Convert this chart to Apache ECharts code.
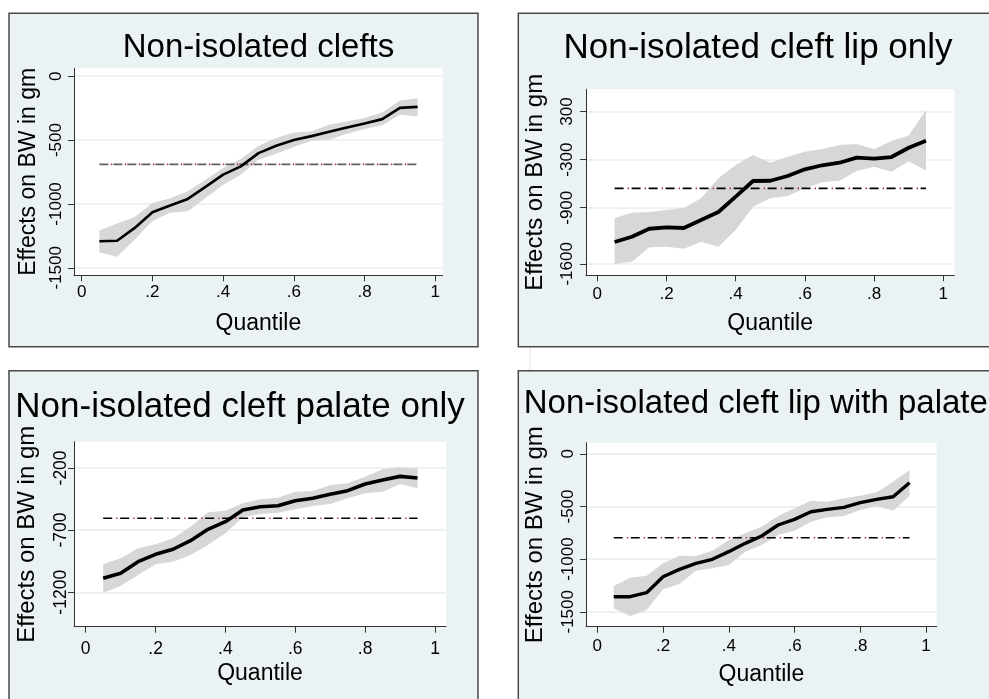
<!DOCTYPE html>
<html>
<head>
<meta charset="utf-8">
<script src="https://cdn.jsdelivr.net/npm/echarts@6/dist/echarts.min.js"></script>
<style>
  html, body { margin: 0; padding: 0; background: #ffffff; }
  #chart { width: 989px; height: 699px; }
</style>
</head>
<body>
<div id="chart"></div>
<script>
// ---------------- data ----------------
const quantiles = [0.05, 0.10, 0.15, 0.20, 0.25, 0.30, 0.35, 0.40, 0.45, 0.50,
                   0.55, 0.60, 0.65, 0.70, 0.75, 0.80, 0.85, 0.90, 0.95];

const xTicks = [0, 0.2, 0.4, 0.6, 0.8, 1];
const xTickLabels = ['0', '.2', '.4', '.6', '.8', '1'];

const titles = ['Non-isolated clefts', 'Non-isolated cleft lip only',
                'Non-isolated cleft palate only', 'Non-isolated cleft lip with palate'];
const yAxisTitle = 'Effects on BW in gm';
const xAxisTitle = 'Quantile';

// Panel 1: Non-isolated clefts
const p1Est   = [-1292, -1288, -1188, -1065, -1013, -961, -867, -771, -706, -602,
                 -545, -500, -469, -435, -401, -370, -336, -248, -240];
const p1Upper = [-1208, -1154, -1102, -992, -956, -901, -810, -719, -648, -545,
                 -484, -441, -430, -380, -355, -328, -284, -191, -172];
const p1Lower = [-1378, -1414, -1279, -1133, -1070, -1058, -953, -849, -771, -654,
                 -607, -555, -505, -498, -451, -414, -383, -302, -316];
const p1Ref = -690;
const p1YTicks = [0, -500, -1000, -1500];

// Panel 2: Non-isolated cleft lip only
const p2Est   = [-1328, -1262, -1162, -1144, -1153, -1053, -953, -762, -566, -563,
                 -504, -420, -370, -338, -275, -288, -267, -151, -63];
const p2Upper = [-1028, -962, -953, -928, -903, -782, -533, -367, -242, -338,
                 -263, -201, -167, -117, -104, -171, -67, 1, 320];
const p2Lower = [-1602, -1574, -1394, -1386, -1411, -1324, -1386, -1178, -887, -782,
                 -754, -657, -583, -563, -441, -388, -450, -320, -438];
const p2Ref = -658;
const p2YTicks = [300, -300, -900, -1600];

// Panel 3: Non-isolated cleft palate only
const p3Est   = [-1087, -1047, -954, -895, -854, -785, -694, -632, -538, -512,
                 -504, -464, -444, -412, -383, -329, -297, -268, -281];
const p3Upper = [-975, -927, -846, -814, -766, -673, -557, -544, -485, -452,
                 -440, -391, -386, -337, -324, -271, -211, -195, -203];
const p3Lower = [-1203, -1149, -1061, -975, -954, -900, -820, -726, -597, -571,
                 -560, -533, -506, -490, -444, -404, -391, -329, -364];
const p3Ref = -605;
const p3YTicks = [-200, -700, -1200];

// Panel 4: Non-isolated cleft lip with palate
const p4Est   = [-1357, -1357, -1319, -1167, -1097, -1040, -1002, -929, -850, -780,
                 -676, -622, -550, -527, -508, -464, -432, -407, -274];
const p4Upper = [-1255, -1176, -1157, -1040, -967, -970, -920, -818, -755, -692,
                 -590, -517, -445, -455, -422, -398, -365, -265, -154];
const p4Lower = [-1467, -1540, -1483, -1287, -1236, -1110, -1087, -1056, -929, -866,
                 -771, -730, -645, -603, -590, -533, -495, -540, -401];
const p4Ref = -797;
const p4YTicks = [0, -500, -1000, -1500];

// ---------------- layout / style ----------------
const FONT = 'Liberation Sans, Arial, Helvetica, sans-serif';
const panels = [
  { est: p1Est, up: p1Upper, lo: p1Lower, ref: p1Ref, yTicks: p1YTicks,
    grid: { left: 74, top: 68.3, width: 368.7, height: 207 },
    xr: [-0.0218, 1.021], yr: [-1559, 62],
    title: { x: 258.5, top: 31.8, size: 33 },
    lw: 2.6, refColor: '#606060', refDash: [9, 5],
    xLabMargin: 9, xNameGap: 36.5, yLabMargin: 9.5, yNameGap: 33.8, nameSize: 23, labSize: 17 },
  { est: p2Est, up: p2Upper, lo: p2Lower, ref: p2Ref, yTicks: p2YTicks,
    grid: { left: 586, top: 89.3, width: 368.3, height: 186 },
    xr: [-0.0327, 1.0318], yr: [-1743, 578],
    title: { x: 758, top: 30.8, size: 35 },
    lw: 3.8, refColor: '#000000', refDash: [9, 8],
    xLabMargin: 11, xNameGap: 36.5, yLabMargin: 10, yNameGap: 39, nameSize: 24, labSize: 17 },
  { est: p3Est, up: p3Upper, lo: p3Lower, ref: p3Ref, yTicks: p3YTicks,
    grid: { left: 74, top: 441.7, width: 372, height: 185 },
    xr: [-0.0335, 1.0315], yr: [-1477, 11],
    title: { x: 240, top: 390, size: 35 },
    lw: 3.6, refColor: '#000000', refDash: [9, 8],
    xLabMargin: 13, xNameGap: 35.8, yLabMargin: 4, yNameGap: 35, nameSize: 24, labSize: 17.5 },
  { est: p4Est, up: p4Upper, lo: p4Lower, ref: p4Ref, yTicks: p4YTicks,
    grid: { left: 586, top: 442.7, width: 350.7, height: 184 },
    xr: [-0.0344, 1.0326], yr: [-1642, 106],
    title: { x: 755.8, top: 387.3, size: 33 },
    lw: 3.4, refColor: '#000000', refDash: [9, 8],
    xLabMargin: 11.5, xNameGap: 36.3, yLabMargin: 9.5, yNameGap: 39, nameSize: 24, labSize: 17 }
];

const option = {
  animation: false,
  backgroundColor: '#ffffff',
  textStyle: { fontFamily: FONT },
  graphic: [
    { type: 'rect', z: -100, shape: { x: 9, y: 13.3, width: 469, height: 333.4 },
      style: { fill: '#EAF2F3', stroke: '#4a4a4a', lineWidth: 1.5 } },
    { type: 'rect', z: -100, shape: { x: 518.3, y: 13.3, width: 480, height: 333.4 },
      style: { fill: '#EAF2F3', stroke: '#4a4a4a', lineWidth: 1.5 } },
    { type: 'rect', z: -100, shape: { x: 9, y: 370.7, width: 469, height: 340 },
      style: { fill: '#EAF2F3', stroke: '#4a4a4a', lineWidth: 1.5 } },
    { type: 'rect', z: -100, shape: { x: 518.3, y: 370.7, width: 480, height: 340 },
      style: { fill: '#EAF2F3', stroke: '#4a4a4a', lineWidth: 1.5 } },
    { type: 'line', z: -100, shape: { x1: 530, y1: 348, x2: 530, y2: 370 },
      style: { stroke: '#e2e2e2', lineWidth: 1 } }
  ],
  title: panels.map((p, i) => ({
    text: titles[i], left: p.title.x, top: p.title.top, textAlign: 'center', padding: 0,
    textStyle: { fontFamily: FONT, fontSize: p.title.size, fontWeight: 'normal', color: '#000' }
  })),
  grid: panels.map(p => Object.assign({ show: true, backgroundColor: '#ffffff', borderWidth: 0 }, p.grid)),
  xAxis: panels.map((p, i) => ({
    gridIndex: i, type: 'value', min: p.xr[0], max: p.xr[1],
    axisLine: { show: true, onZero: false, lineStyle: { color: '#333', width: 1 } },
    axisTick: { show: true, length: 6, customValues: xTicks, lineStyle: { color: '#333', width: 1 } },
    axisLabel: { customValues: xTicks, margin: p.xLabMargin, fontSize: p.labSize, color: '#000', fontFamily: FONT,
      formatter: v => { const k = xTicks.findIndex(t => Math.abs(t - v) < 1e-9); return k >= 0 ? xTickLabels[k] : ''; } },
    splitLine: { show: false },
    name: xAxisTitle, nameLocation: 'middle', nameGap: p.xNameGap,
    nameTextStyle: { fontSize: 23, color: '#000', fontFamily: FONT }
  })),
  yAxis: panels.map((p, i) => ({
    gridIndex: i, type: 'value', min: p.yr[0], max: p.yr[1],
    axisLine: { show: true, onZero: false, lineStyle: { color: '#333', width: 1 } },
    axisTick: { show: true, length: 6, customValues: p.yTicks, lineStyle: { color: '#333', width: 1 } },
    axisLabel: { customValues: p.yTicks, rotate: 90, margin: p.yLabMargin, fontSize: p.labSize, color: '#000',
      fontFamily: FONT, formatter: v => String(v) },
    splitLine: { show: true, lineStyle: { color: '#E4EDF0', width: 1.5 } },
    name: yAxisTitle, nameLocation: 'middle', nameRotate: 90, nameGap: p.yNameGap,
    nameTextStyle: { fontSize: p.nameSize, color: '#000', fontFamily: FONT }
  })),
  series: []
};

panels.forEach((p, i) => {
  // confidence band
  option.series.push({
    type: 'custom', xAxisIndex: i, yAxisIndex: i, silent: true, z: 1,
    data: quantiles.map((q, k) => [q, p.up[k], p.lo[k]]),
    encode: { x: 0, y: [1, 2] },
    renderItem: (params, api) => {
      if (params.dataIndex !== 0) return;
      const pts = [];
      for (let k = 0; k < quantiles.length; k++) pts.push(api.coord([quantiles[k], p.up[k]]));
      for (let k = quantiles.length - 1; k >= 0; k--) pts.push(api.coord([quantiles[k], p.lo[k]]));
      return { type: 'polygon', shape: { points: pts }, style: { fill: '#D7D7D7' } };
    }
  });
  // reference line (dashed) + red dots in gaps
  const refData = [[quantiles[0], p.ref], [quantiles[quantiles.length - 1], p.ref]];
  option.series.push({
    type: 'line', xAxisIndex: i, yAxisIndex: i, silent: true, z: 2, showSymbol: false,
    data: refData,
    lineStyle: { color: p.refColor, width: 1.6, type: p.refDash }
  });
  const period = p.refDash[0] + p.refDash[1];
  option.series.push({
    type: 'line', xAxisIndex: i, yAxisIndex: i, silent: true, z: 2, showSymbol: false,
    data: refData,
    lineStyle: { color: '#A03A3A', width: 1.6, type: [1.4, period - 1.4],
      dashOffset: -(p.refDash[0] + p.refDash[1] / 2) + period }
  });
  // estimate line
  option.series.push({
    type: 'line', xAxisIndex: i, yAxisIndex: i, silent: true, z: 3, showSymbol: false,
    data: quantiles.map((q, k) => [q, p.est[k]]),
    lineStyle: { color: '#000', width: p.lw, join: 'round' }
  });
});

const chart = echarts.init(document.getElementById('chart'), null, { renderer: 'canvas', width: 989, height: 699 });
chart.setOption(option);
</script>
</body>
</html>
